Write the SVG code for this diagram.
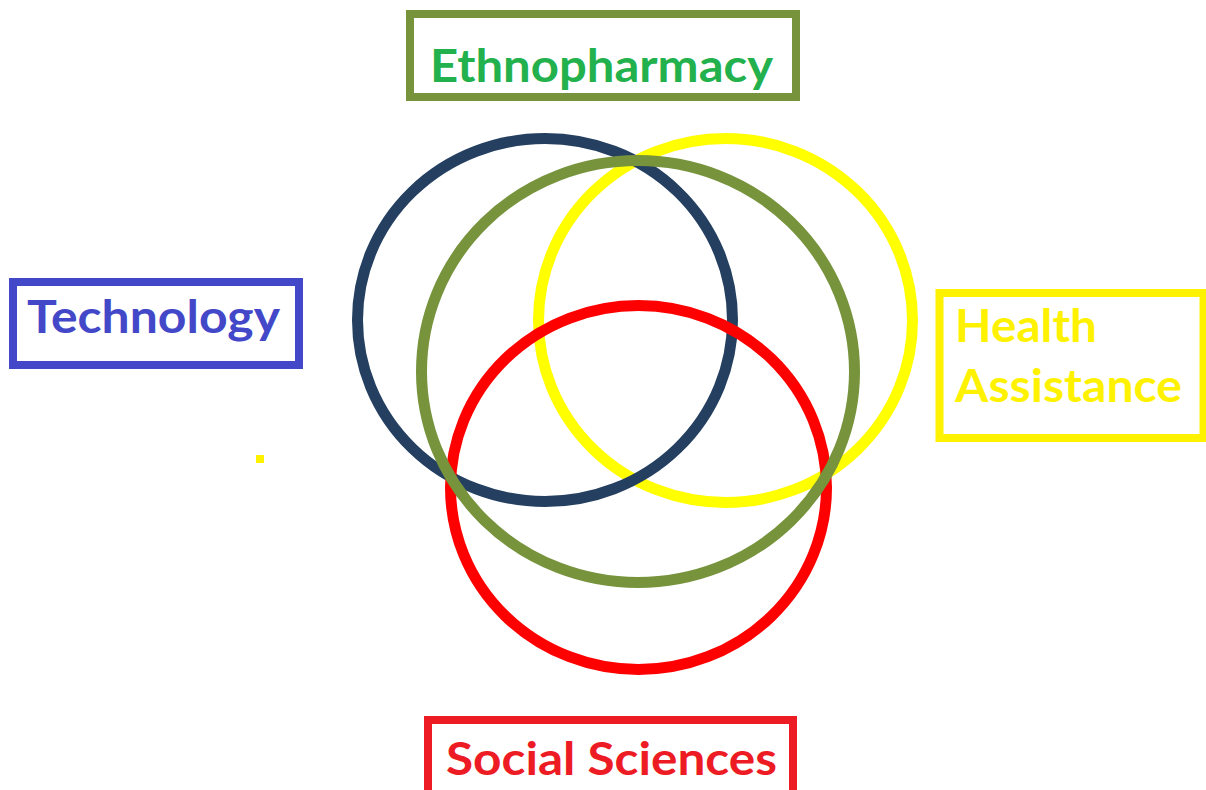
<svg xmlns="http://www.w3.org/2000/svg" width="1206" height="790" viewBox="0 0 1206 790">
<style>
.lbl{font-family:Lato,"Open Sans","Liberation Sans",sans-serif;font-weight:bold;font-size:46px}
.ring{fill:none;stroke-width:11}
.box{fill:#fff;stroke-width:8}
</style>
<rect width="1206" height="790" fill="#fff"/>
<g id="circles">
<ellipse id="c-yellow" class="ring" cx="725.5" cy="320.5" rx="187" ry="182" stroke="#FFFF00"/>
<ellipse id="c-navy" class="ring" cx="545" cy="320" rx="187.5" ry="181.5" stroke="#243F60"/>
<ellipse id="c-red" class="ring" cx="638.5" cy="487.5" rx="188" ry="182" stroke="#FF0000"/>
<ellipse id="c-olive" class="ring" cx="638" cy="371.5" rx="216.5" ry="211" stroke="#77933C"/>
</g>
<g id="ethnopharmacy">
<rect class="box" x="410" y="14" width="386" height="83" stroke="#77933C"/>
<text class="lbl" x="430" y="82" textLength="343" lengthAdjust="spacingAndGlyphs" fill="#22B14C">Ethnopharmacy</text>
</g>
<g id="technology">
<rect class="box" x="13" y="282" width="286" height="83" stroke="#4348C8" stroke-width="7"/>
<text class="lbl" x="27" y="333" textLength="253" lengthAdjust="spacingAndGlyphs" fill="#4348C8">Technology</text>
</g>
<g id="health-assistance">
<rect class="box" x="939.5" y="293" width="264" height="145" stroke="#FFF200" stroke-width="7"/>
<text class="lbl" x="955" y="342" textLength="142" lengthAdjust="spacingAndGlyphs" fill="#FFF200">Health</text>
<text class="lbl" x="955" y="402" textLength="227" lengthAdjust="spacingAndGlyphs" fill="#FFF200">Assistance</text>
</g>
<g id="social-sciences">
<rect class="box" x="428" y="720" width="365" height="90" stroke="#ED1C24" stroke-width="8"/>
<text class="lbl" x="446" y="775" textLength="331" lengthAdjust="spacingAndGlyphs" fill="#ED1C24">Social Sciences</text>
</g>
<rect x="256" y="455" width="8" height="8" fill="#FFF200"/>
</svg>
